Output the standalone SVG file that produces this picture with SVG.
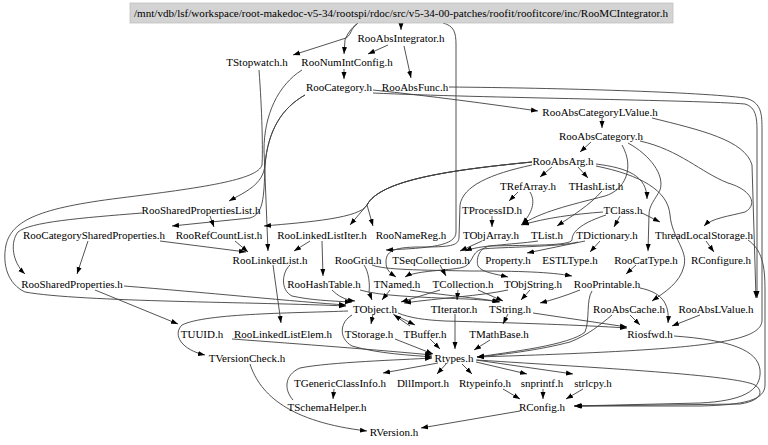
<svg xmlns="http://www.w3.org/2000/svg" width="768" height="445" viewBox="0 0 768 445">
<style>
text{font-family:"Liberation Serif","Times New Roman",serif;font-size:11px;text-anchor:middle;fill:#000}
.e{fill:none;stroke:#404040;stroke-width:0.9;marker-end:url(#a)}
</style>
<defs>
<marker id="a" markerWidth="7" markerHeight="6" refX="7" refY="3" orient="auto" markerUnits="userSpaceOnUse"><path d="M0,0.5 L7,3 L0,5.5 z" fill="#000"/></marker>
</defs>
<rect width="768" height="445" fill="#fff"/>
<g id="edges">
<path class="e" d="M401,23 L401,30"/>
<path class="e" d="M358,23 C350,29 352,34 346,38 L293,55"/>
<path class="e" d="M358,23 C350,29 347,35 345,40 L344,54"/>
<path class="e" d="M443,23 C454,26 456,32 456,45 L456,232 C456,246 430,248 386,250"/>
<path class="e" d="M388,45 L368,54"/>
<path class="e" d="M404,46 L411,78"/>
<path class="e" d="M344,69 L344,79"/>
<path class="e" d="M302,70 C278,85 264,115 264,150 L268,251"/>
<path class="e" d="M305,95 C282,108 268,130 265,165 C263,185 245,192 229,201"/>
<path class="e" d="M305,95 C282,108 268,130 265,165 C264,200 263,214 250,218 L172,226"/>
<path class="e" d="M373,90 C430,96 490,104 538,111"/>
<path class="e" d="M259,70 C262,110 263,150 262,165 C258,180 200,188 120,198 C40,208 12,220 6,245 C2,265 8,284 25,292 C80,302 260,302 346,306"/>
<path class="e" d="M449,87 C560,88 700,92 745,98 C762,102 762,115 762,130 L762,320 C762,343 700,350 477,357"/>
<path class="e" d="M373,93 C480,98 700,100 745,104 C756,107 757,118 757,130 L757,298"/>
<path class="e" d="M602,118 L602,128"/>
<path class="e" d="M652,118 C700,130 745,140 752,165 L756,298"/>
<path class="e" d="M591,142 L580,152"/>
<path class="e" d="M628,143 C650,155 665,175 660,190 C655,200 649,205 649,215 L648,251"/>
<path class="e" d="M622,145 C635,168 625,190 605,196 C570,205 540,212 521,225"/>
<path class="e" d="M640,141 C680,150 700,172 728,183 C752,190 758,205 745,212 C730,216 712,218 704,226"/>
<path class="e" d="M552,167 L540,177"/>
<path class="e" d="M578,167 L588,178"/>
<path class="e" d="M532,162 C450,170 380,180 367,205 L350,225"/>
<path class="e" d="M532,162 C450,170 380,180 367,205 L373,226"/>
<path class="e" d="M532,162 C450,170 380,180 367,205 C360,218 310,222 264,226"/>
<path class="e" d="M596,164 C628,168 647,176 647,199"/>
<path class="e" d="M532,165 C490,174 463,186 460,205 L459,238 C458,246 450,247 420,247 C392,247 386,252 386,262 C386,270 390,273 396,277"/>
<path class="e" d="M596,166 C640,175 668,190 670,215 C672,238 688,250 684,266 C680,283 665,292 652,301"/>
<path class="e" d="M518,192 L509,201"/>
<path class="e" d="M530,192 C536,202 532,213 522,224"/>
<path class="e" d="M602,191 C590,205 572,216 557,226"/>
<path class="e" d="M492,216 L492,227"/>
<path class="e" d="M603,212 C575,214 545,218 522,225"/>
<path class="e" d="M620,216 L614,227"/>
<path class="e" d="M642,213 L660,222"/>
<path class="e" d="M606,215 C585,222 572,230 572,240 C570,246 530,245 490,246 C478,248 476,260 478,266 C481,272 495,274 508,277"/>
<path class="e" d="M482,241 L460,251"/>
<path class="e" d="M538,241 C510,245 480,245 465,251"/>
<path class="e" d="M600,241 L590,252"/>
<path class="e" d="M585,241 L527,253"/>
<path class="e" d="M578,242 C560,247 500,247 482,249 C470,252 474,266 460,268 C440,271 415,271 405,277"/>
<path class="e" d="M706,241 L714,252"/>
<path class="e" d="M748,240 C762,250 765,265 765,290 L765,385 C765,400 745,405 700,406 L574,406"/>
<path class="e" d="M160,241 L246,252"/>
<path class="e" d="M88,241 L77,274"/>
<path class="e" d="M142,213 C80,218 30,222 18,232 C10,242 12,262 25,274"/>
<path class="e" d="M210,216 L214,227"/>
<path class="e" d="M235,241 L248,252"/>
<path class="e" d="M310,241 L294,251"/>
<path class="e" d="M322,241 L323,276"/>
<path class="e" d="M273,265 L281,323"/>
<path class="e" d="M290,265 C282,272 280,290 292,296 C310,300 330,301 352,302"/>
<path class="e" d="M372,265 C385,270 420,270 470,271 C520,271 550,272 572,276"/>
<path class="e" d="M364,265 C369,272 370,285 369,292 L372,300"/>
<path class="e" d="M440,265 L446,276"/>
<path class="e" d="M124,286 C200,292 300,302 346,305"/>
<path class="e" d="M95,290 L178,324"/>
<path class="e" d="M332,290 C338,296 345,300 355,301"/>
<path class="e" d="M360,290 C380,296 420,297 440,298 C470,299 490,300 499,302"/>
<path class="e" d="M390,290 L382,300"/>
<path class="e" d="M410,290 C440,295 480,298 500,302"/>
<path class="e" d="M440,290 L401,302"/>
<path class="e" d="M458,290 L457,300"/>
<path class="e" d="M478,290 L503,301"/>
<path class="e" d="M530,290 L521,300"/>
<path class="e" d="M508,290 C480,296 440,298 404,303"/>
<path class="e" d="M636,265 L626,274"/>
<path class="e" d="M580,290 C565,296 552,300 540,303"/>
<path class="e" d="M640,288 C660,292 670,302 668,323"/>
<path class="e" d="M592,291 C586,300 590,320 585,332 C570,345 510,352 477,357"/>
<path class="e" d="M630,315 L640,325"/>
<path class="e" d="M612,315 C600,325 588,335 570,342 C540,350 500,355 477,357"/>
<path class="e" d="M700,315 L672,326"/>
<path class="e" d="M373,314 L371,324"/>
<path class="e" d="M393,314 L415,325"/>
<path class="e" d="M410,326 L394,315"/>
<path class="e" d="M348,311 C300,313 205,313 182,325 C172,335 182,350 205,355"/>
<path class="e" d="M352,315 C340,322 338,338 352,346 C380,354 410,355 432,357"/>
<path class="e" d="M398,313 C410,318 425,320 445,321 C520,323 580,325 627,328"/>
<path class="e" d="M455,314 L455,349"/>
<path class="e" d="M508,314 L503,324"/>
<path class="e" d="M533,313 L627,327"/>
<path class="e" d="M232,339 C300,344 380,350 432,355"/>
<path class="e" d="M395,339 L433,354"/>
<path class="e" d="M430,339 L440,349"/>
<path class="e" d="M490,340 L474,350"/>
<path class="e" d="M674,336 C730,340 758,350 760,370 C762,392 740,401 700,403 L574,406"/>
<path class="e" d="M477,360 C600,368 735,375 755,385 C765,392 760,401 740,404 L575,406"/>
<path class="e" d="M438,363 L383,373"/>
<path class="e" d="M446,364 L437,374"/>
<path class="e" d="M462,364 L472,374"/>
<path class="e" d="M476,362 L527,374"/>
<path class="e" d="M476,360 L573,374"/>
<path class="e" d="M503,389 L520,399"/>
<path class="e" d="M543,389 L543,399"/>
<path class="e" d="M583,389 L566,399"/>
<path class="e" d="M520,411 L421,428"/>
<path class="e" d="M334,389 L333,399"/>
<path class="e" d="M293,400 C284,390 284,375 300,368 C330,362 400,360 432,358"/>
<path class="e" d="M250,364 C260,395 290,422 367,431"/>
</g>
<g id="n_RooMCIntegrator"><rect x="130" y="3" width="543" height="20" fill="#d3d3d3" stroke="#c0c0c0" stroke-width="0.8"/><text x="401" y="17" textLength="534" lengthAdjust="spacingAndGlyphs">/mnt/vdb/lsf/workspace/root-makedoc-v5-34/rootspi/rdoc/src/v5-34-00-patches/roofit/roofitcore/inc/RooMCIntegrator.h</text></g>
<g id="n_RooAbsIntegrator"><text x="401" y="41.7">RooAbsIntegrator.h</text></g>
<g id="n_TStopwatch"><text x="257" y="66.3">TStopwatch.h</text></g>
<g id="n_RooNumIntConfig"><text x="347" y="66.3">RooNumIntConfig.h</text></g>
<g id="n_RooCategory"><text x="339" y="91">RooCategory.h</text></g>
<g id="n_RooAbsFunc"><text x="415" y="91">RooAbsFunc.h</text></g>
<g id="n_RooAbsCategoryLValue"><text x="600" y="115.6">RooAbsCategoryLValue.h</text></g>
<g id="n_RooAbsCategory"><text x="601" y="140.3">RooAbsCategory.h</text></g>
<g id="n_RooAbsArg"><text x="563" y="164.9">RooAbsArg.h</text></g>
<g id="n_TRefArray"><text x="528" y="189.6">TRefArray.h</text></g>
<g id="n_THashList"><text x="596" y="189.6">THashList.h</text></g>
<g id="n_RooSharedPropertiesList"><text x="201" y="214.2">RooSharedPropertiesList.h</text></g>
<g id="n_TProcessID"><text x="492" y="214.2">TProcessID.h</text></g>
<g id="n_TClass"><text x="623" y="214.2">TClass.h</text></g>
<g id="n_RooCategorySharedProperties"><text x="94" y="238.9">RooCategorySharedProperties.h</text></g>
<g id="n_RooRefCountList"><text x="219" y="238.9">RooRefCountList.h</text></g>
<g id="n_RooLinkedListIter"><text x="322" y="238.9">RooLinkedListIter.h</text></g>
<g id="n_RooNameReg"><text x="411" y="238.9">RooNameReg.h</text></g>
<g id="n_TObjArray"><text x="491" y="238.9">TObjArray.h</text></g>
<g id="n_TList"><text x="547" y="238.9">TList.h</text></g>
<g id="n_TDictionary"><text x="607" y="238.9">TDictionary.h</text></g>
<g id="n_ThreadLocalStorage"><text x="704" y="238.9">ThreadLocalStorage.h</text></g>
<g id="n_RooLinkedList"><text x="270" y="263.5">RooLinkedList.h</text></g>
<g id="n_RooGrid"><text x="358" y="263.5">RooGrid.h</text></g>
<g id="n_TSeqCollection"><text x="431" y="263.5">TSeqCollection.h</text></g>
<g id="n_Property"><text x="508" y="263.5">Property.h</text></g>
<g id="n_ESTLType"><text x="570" y="263.5">ESTLType.h</text></g>
<g id="n_RooCatType"><text x="646" y="263.5">RooCatType.h</text></g>
<g id="n_RConfigure"><text x="721" y="263.5">RConfigure.h</text></g>
<g id="n_RooSharedProperties"><text x="72" y="288.2">RooSharedProperties.h</text></g>
<g id="n_RooHashTable"><text x="324" y="288.2">RooHashTable.h</text></g>
<g id="n_TNamed"><text x="397" y="288.2">TNamed.h</text></g>
<g id="n_TCollection"><text x="463" y="288.2">TCollection.h</text></g>
<g id="n_TObjString"><text x="533" y="288.2">TObjString.h</text></g>
<g id="n_RooPrintable"><text x="607" y="288.2">RooPrintable.h</text></g>
<g id="n_TObject"><text x="375" y="312.8">TObject.h</text></g>
<g id="n_TIterator"><text x="454" y="312.8">TIterator.h</text></g>
<g id="n_TString"><text x="510" y="312.8">TString.h</text></g>
<g id="n_RooAbsCache"><text x="629" y="312.8">RooAbsCache.h</text></g>
<g id="n_RooAbsLValue"><text x="716" y="312.8">RooAbsLValue.h</text></g>
<g id="n_TUUID"><text x="202" y="337.5">TUUID.h</text></g>
<g id="n_RooLinkedListElem"><text x="283" y="337.5">RooLinkedListElem.h</text></g>
<g id="n_TStorage"><text x="369" y="337.5">TStorage.h</text></g>
<g id="n_TBuffer"><text x="425" y="337.5">TBuffer.h</text></g>
<g id="n_TMathBase"><text x="499" y="337.5">TMathBase.h</text></g>
<g id="n_Riosfwd"><text x="650" y="337.5">Riosfwd.h</text></g>
<g id="n_TVersionCheck"><text x="247" y="362.1">TVersionCheck.h</text></g>
<g id="n_Rtypes"><text x="454" y="362.1">Rtypes.h</text></g>
<g id="n_TGenericClassInfo"><text x="340" y="386.8">TGenericClassInfo.h</text></g>
<g id="n_DllImport"><text x="423" y="386.8">DllImport.h</text></g>
<g id="n_Rtypeinfo"><text x="485" y="386.8">Rtypeinfo.h</text></g>
<g id="n_snprintf"><text x="542" y="386.8">snprintf.h</text></g>
<g id="n_strlcpy"><text x="593" y="386.8">strlcpy.h</text></g>
<g id="n_TSchemaHelper"><text x="327" y="411.4">TSchemaHelper.h</text></g>
<g id="n_RConfig"><text x="542" y="411.4">RConfig.h</text></g>
<g id="n_RVersion"><text x="394" y="436.1">RVersion.h</text></g>
</svg>
